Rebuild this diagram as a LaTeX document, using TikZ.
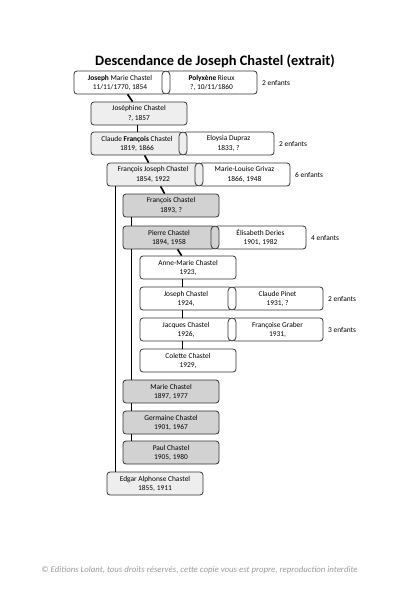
\documentclass[tikz,border=0pt]{standalone}
\usepackage{fontspec}
\setmainfont{Carlito}
\definecolor{lightfill}{HTML}{EEEEEE}
\definecolor{darkfill}{HTML}{D2D2D2}
\definecolor{edgecol}{HTML}{333333}
\definecolor{footgray}{HTML}{9A9A9A}
\tikzset{
  pbox/.style={draw=edgecol, line width=0.8pt, rounded corners=3pt, minimum height=23pt,
    inner sep=0pt, align=center, font=\fontsize{7.4}{9.2}\selectfont},
  pill/.style={draw=edgecol, line width=0.8pt, rounded corners=4pt, minimum width=8pt,
    minimum height=23pt, inner sep=0pt},
  note/.style={font=\fontsize{7.4}{9}\selectfont, inner sep=0pt, anchor=west},
  conn/.style={line width=1.6pt, black},
}
% name, x0, ytop, fill, left text, right text, note
\newcommand{\pcouple}[7]{%
  \node[pbox, fill=white, minimum width=91pt] (#1r) at ({#2+92+45.5},{#3+11.5}) {#6};
  \node[pbox, fill=#4, minimum width=92pt] (#1l) at ({#2+46},{#3+11.5}) {#5};
  \node[pill, fill=#4] (#1p) at ({#2+92},{#3+11.5}) {};
  \node[note] (#1n) at ({#2+188},{#3+11.5}) {#7};
}
% name, x0, ytop, fill, text
\newcommand{\psingle}[5]{%
  \node[pbox, fill=#4, minimum width=96pt] (#1) at ({#2+48},{#3+11.5}) {#5};
}
\begin{document}
\begin{tikzpicture}[x=1pt,y=-1pt]
\useasboundingbox (0,0) rectangle (400,600);
\node[font=\fontsize{14.4}{17}\selectfont\bfseries, inner sep=0pt] (title) at (215,61) {Descendance de Joseph Chastel (extrait)};

\pcouple{jm}{74}{71}{white}{\textbf{Joseph} Marie Chastel\\11/11/1770, 1854}{\textbf{Polyxène} Rieux\\?, 10/11/1860}{2 enfants}
\psingle{jo}{91}{102}{lightfill}{Joséphine Chastel\\?, 1857}
\pcouple{cf}{91}{132}{lightfill}{Claude \textbf{François} Chastel\\1819, 1866}{Eloysia Dupraz\\1833, ?}{2 enfants}
\pcouple{fj}{107}{163}{lightfill}{François Joseph Chastel\\1854, 1922}{Marie-Louise Grivaz\\1866, 1948}{6 enfants}
\psingle{fc}{123}{194}{darkfill}{François Chastel\\1893, ?}
\pcouple{pc}{123}{226}{darkfill}{Pierre Chastel\\1894, 1958}{Élisabeth Deries\\1901, 1982}{4 enfants}
\psingle{am}{140}{256}{white}{Anne-Marie Chastel\\1923,}
\pcouple{jc}{140}{287}{white}{Joseph Chastel\\1924,}{Claude Pinet\\1931, ?}{2 enfants}
\pcouple{jq}{140}{318}{white}{Jacques Chastel\\1926,}{Françoise Graber\\1931,}{3 enfants}
\psingle{co}{140}{349}{white}{Colette Chastel\\1929,}
\psingle{ma}{123}{380}{darkfill}{Marie Chastel\\1897, 1977}
\psingle{ge}{123}{411}{darkfill}{Germaine Chastel\\1901, 1967}
\psingle{pa}{123}{441}{darkfill}{Paul Chastel\\1905, 1980}
\psingle{ed}{107}{472}{lightfill}{Edgar Alphonse Chastel\\1855, 1911}

% connectors
\draw[conn] ([xshift=54pt]jml.south west) -- ([xshift=42pt]jo.north west);
\draw[conn] ([xshift=47pt]jo.south west) -- ([xshift=47pt]cfl.north west);
\draw[conn] ([xshift=54pt]cfl.south west) -- ([xshift=42pt]fjl.north west);
\draw[conn] ([xshift=54pt]fjl.south west) -- ([xshift=42pt]fc.north west);
\draw[conn] ([xshift=9pt]fjl.south west) -- ([xshift=9pt]ed.north west);
\draw[conn] ([xshift=9pt]fc.south west) -- ([xshift=9pt]pcl.north west);
\draw[conn] ([xshift=9pt]pcl.south west) -- ([xshift=9pt]ma.north west);
\draw[conn] ([xshift=9pt]ma.south west) -- ([xshift=9pt]ge.north west);
\draw[conn] ([xshift=9pt]ge.south west) -- ([xshift=9pt]pa.north west);
\draw[conn] ([xshift=55pt]pcl.south west) -- ([xshift=42pt]am.north west);
\draw[conn] ([xshift=43pt]am.south west) -- ([xshift=43pt]jcl.north west);
\draw[conn] ([xshift=43pt]jcl.south west) -- ([xshift=43pt]jql.north west);
\draw[conn] ([xshift=43pt]jql.south west) -- ([xshift=43pt]co.north west);

\node[font=\fontsize{8.8}{10}\selectfont\itshape, text=footgray, inner sep=0pt] (foot) at (199.5,570)
  {© Editions Lolant, tous droits réservés, cette copie vous est propre, reproduction interdite};
\end{tikzpicture}
\end{document}
